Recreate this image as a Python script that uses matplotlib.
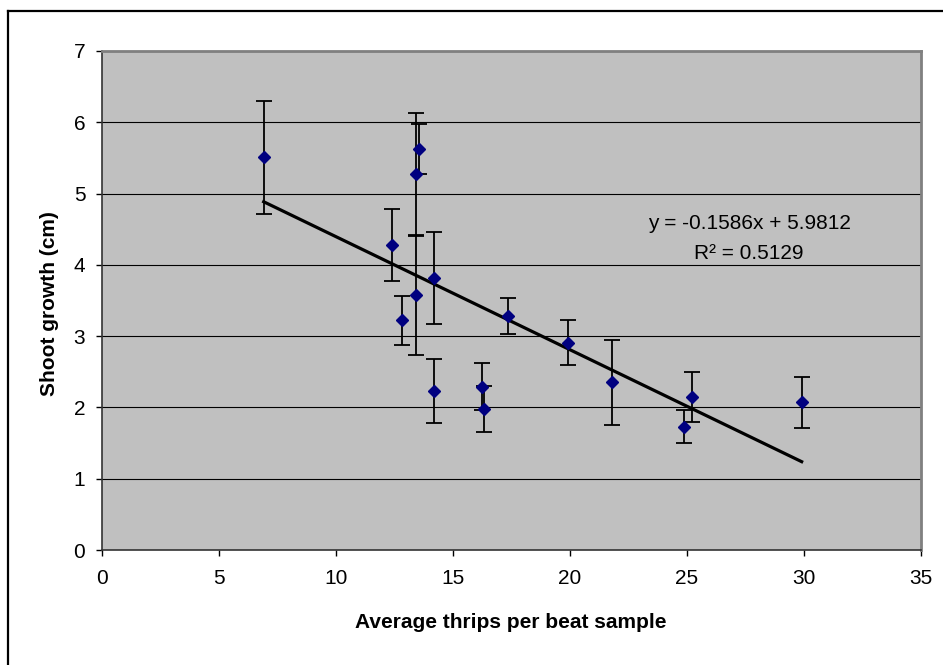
import numpy as np
import matplotlib
matplotlib.use("Agg")
import matplotlib.pyplot as plt
from matplotlib.lines import Line2D

plt.rcParams['font.family'] = ['Liberation Sans', 'DejaVu Sans']

# thrips counts vs shoot growth, with error bar half-widths
thrips = [6.91, 12.41, 12.83, 13.53, 13.43, 13.43, 14.18, 14.19,
          16.24, 16.33, 17.37, 19.92, 21.79, 24.86, 25.20, 29.90]
growth = [5.51, 4.28, 3.22, 5.63, 5.27, 3.58, 3.81, 2.23,
          2.29, 1.98, 3.28, 2.91, 2.35, 1.73, 2.15, 2.07]
err = [0.79, 0.51, 0.35, 0.35, 0.86, 0.84, 0.645, 0.45,
       0.33, 0.32, 0.255, 0.31, 0.59, 0.23, 0.35, 0.355]

# linear trendline coefficients
slope = -0.1586
intercept = 5.9812
r2 = 0.5129

W, H = 943, 665
fig = plt.figure(figsize=(W / 100, H / 100), dpi=100)
ax = fig.add_axes([102 / W, 1 - 550 / H, (921 - 102) / W, (550 - 51) / H])
ax.set_facecolor('#C0C0C0')

ax.set_xlim(0, 35)
ax.set_ylim(0, 7)
ax.set_xticks(range(0, 36, 5))
ax.set_yticks(range(0, 8))
ax.tick_params(direction='out', length=4, width=1, labelsize=15, colors='black')
ax.tick_params(axis='y', pad=8)
ax.tick_params(axis='x', pad=10)

for y in range(1, 8):
    ax.axhline(y, color='black', lw=0.8, zorder=1)

for side in ['top', 'right']:
    ax.spines[side].set_color('#808080')
    ax.spines[side].set_linewidth(2)
for side in ['left', 'bottom']:
    ax.spines[side].set_color('#333333')
    ax.spines[side].set_linewidth(1.2)

# trendline across the data range
tx = np.array([min(thrips), max(thrips)])
ax.plot(tx, slope * tx + intercept, color='black', lw=2.3, zorder=3)

ax.errorbar(thrips, growth, yerr=err, fmt='none', ecolor='black',
            elinewidth=1.3, capsize=5.5, capthick=1.3, zorder=4)
ax.plot(thrips, growth, 'D', color='#000080', markersize=6.5, zorder=5)

ax.text(27.65, 4.58, f'y = {slope}x + {intercept}', ha='center', va='center', fontsize=15)
ax.text(27.65, 4.16, f'R² = {r2}', ha='center', va='center', fontsize=15)

fig.text(511 / W, 1 - 623 / H, 'Average thrips per beat sample', ha='center', va='center',
         fontsize=15, fontweight='bold')
fig.text(50 / W, 1 - 304 / H, 'Shoot growth (cm)', ha='center', va='center',
         rotation=90, fontsize=15, fontweight='bold')

# chart frame (top and left edges)
fig.add_artist(Line2D([8 / W, 1.0], [1 - 11 / H, 1 - 11 / H], color='black', lw=1.6,
                      transform=fig.transFigure))
fig.add_artist(Line2D([8 / W, 8 / W], [0.0, 1 - 11 / H], color='black', lw=1.6,
                      transform=fig.transFigure))

fig.savefig('out.png', dpi=100)
